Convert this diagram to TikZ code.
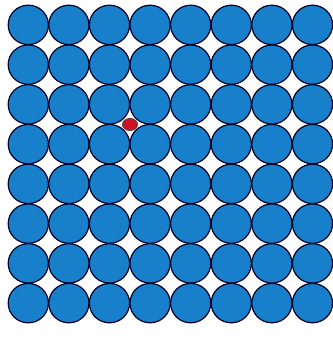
\documentclass[tikz,border=0pt]{standalone}
\definecolor{atomblue}{RGB}{24,128,202}
\definecolor{atomred}{RGB}{210,16,36}
\tikzset{
  atom/.style={fill=atomblue, draw=black!85!blue, line width=1.2pt},
  interstitial/.style={fill=atomred, draw=black!70, line width=1pt}
}
\begin{document}
\begin{tikzpicture}[x=1pt, y=-1pt]
    \useasboundingbox (0,0) rectangle (332,339);

    % Lattice of host atoms (8 x 8)
    \foreach \i in {0,...,7}
      \foreach \j in {0,...,7}
        \draw[atom] ({8+(\i+0.5)*40.6},{5+(\j+0.5)*39.75}) ellipse [x radius=20.1pt, y radius=19.7pt];

    % Interstitial atom
    \draw[interstitial] (130,124.5) ellipse [x radius=7.5pt, y radius=6pt];
\end{tikzpicture}
\end{document}
